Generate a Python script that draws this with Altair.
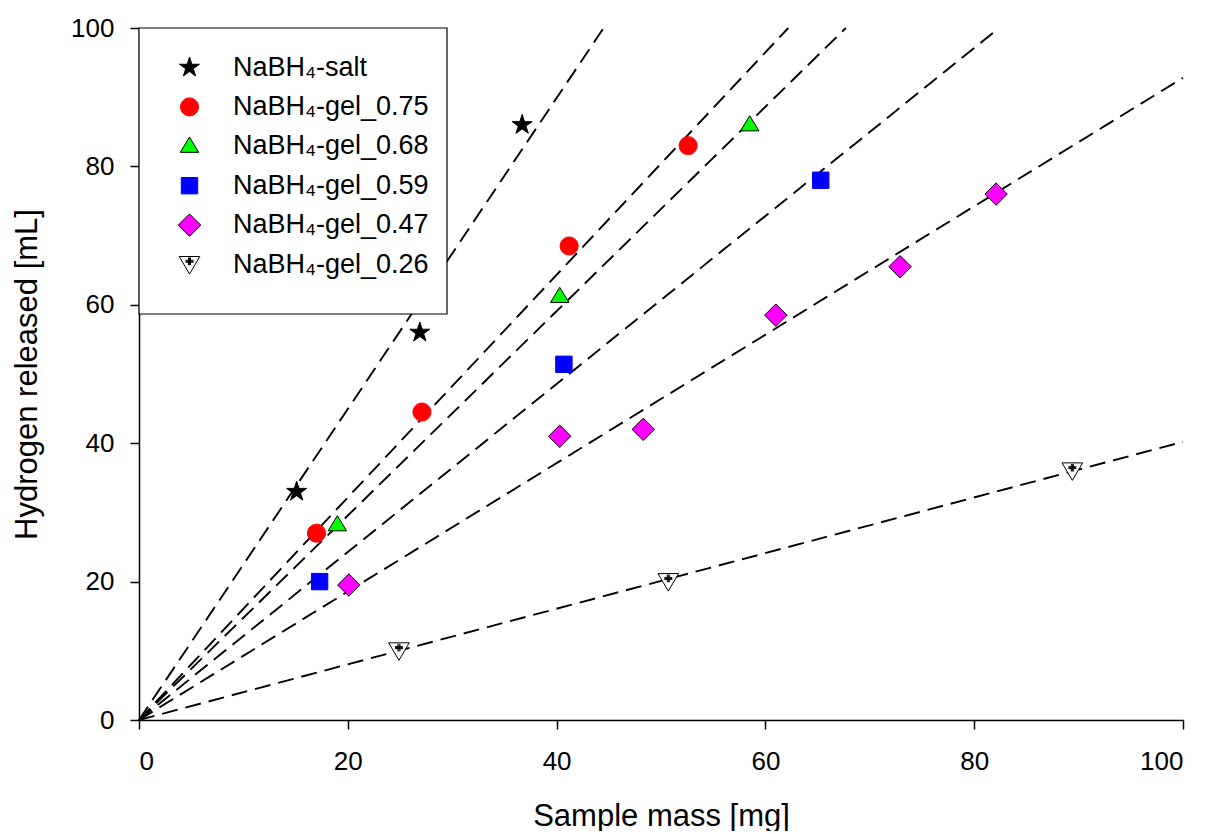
import altair as alt
import pandas as pd

series = ["NaBH₄-salt", "NaBH₄-gel_0.75", "NaBH₄-gel_0.68",
          "NaBH₄-gel_0.59", "NaBH₄-gel_0.47", "NaBH₄-gel_0.26"]

salt_x = [15.1, 26.9, 36.7]
salt_y = [33.0, 56.0, 86.0]
g75_x = [17.0, 27.1, 41.2, 52.6]
g75_y = [27.0, 44.5, 68.5, 83.0]
g68_x = [19.0, 40.3, 58.5]
g68_y = [28.2, 61.2, 86.0]
g59_x = [17.3, 40.7, 65.3]
g59_y = [20.0, 51.4, 78.0]
g47_x = [20.1, 40.3, 48.3, 61.0, 72.9, 82.1]
g47_y = [19.5, 41.0, 42.0, 58.5, 65.5, 76.0]
g26_x = [24.9, 50.7, 89.4]
g26_y = [10.0, 20.0, 36.0]

# slopes of the dashed fit lines (through the origin)
slopes = [2.247, 1.608, 1.477, 1.214, 0.928, 0.402]

fills = ["#000000", "#ff0000", "#00ff00", "#0000ff", "#ff00ff", "#ffffff"]
strokes = ["#000000", "#ff0000", "#000000", "#0000ff", "#000000", "#000000"]

STAR = ("M0,-1.05L0.236,-0.324L0.999,-0.324L0.381,0.124L0.617,0.849L0,0.401"
        "L-0.617,0.849L-0.381,0.124L-0.999,-0.324L-0.236,-0.324Z")
CIRCLE = "M0.9,0A0.9,0.9,0,1,1,-0.9,0A0.9,0.9,0,1,1,0.9,0Z"
TRI_UP = "M0,-0.92L0.92,0.6L-0.92,0.6Z"
SQUARE = "M-0.82,-0.82L0.82,-0.82L0.82,0.82L-0.82,0.82Z"
DIAMOND = "M-1.12,0L0,-1.12L1.12,0L0,1.12Z"
TRI_PLUS = ("M-1.03,-0.8L1.03,-0.8L0,0.95Z"
            "M-0.1,-0.7L-0.1,0.06M0,-0.7L0,0.06M0.1,-0.7L0.1,0.06"
            "M-0.4,-0.42L0.4,-0.42M-0.4,-0.32L0.4,-0.32M-0.4,-0.22L0.4,-0.22")
shapes = [STAR, CIRCLE, TRI_UP, SQUARE, DIAMOND, TRI_PLUS]

xs = [salt_x, g75_x, g68_x, g59_x, g47_x, g26_x]
ys = [salt_y, g75_y, g68_y, g59_y, g47_y, g26_y]

rows = []
for s, xv, yv in zip(series, xs, ys):
    for a, b in zip(xv, yv):
        rows.append({"series": s, "x": a, "y": b})
pts = pd.DataFrame(rows)

lrows = []
for s, k in zip(series, slopes):
    xend = min(100.0, 100.0 / k)
    lrows.append({"series": s, "x": 0.0, "y": 0.0, "o": 0})
    lrows.append({"series": s, "x": xend, "y": k * xend, "o": 1})
lines_df = pd.DataFrame(lrows)

xscale = alt.Scale(domain=[0, 100], nice=False, zero=True)
yscale = alt.Scale(domain=[0, 100], nice=False, zero=True)

FONT = "Liberation Sans"

xaxis = alt.Axis(values=[0, 20, 40, 60, 80, 100], title="Sample mass [mg]",
                 grid=False, tickSize=9, labelPadding=19, titlePadding=27)
yaxis = alt.Axis(values=[0, 20, 40, 60, 80, 100], title="Hydrogen released [mL]",
                 grid=False, tickSize=9, labelPadding=16, titlePadding=27)

lines = alt.Chart(lines_df).mark_line(
    color="black", strokeWidth=1.9, strokeDash=[16, 8]
).encode(
    x=alt.X("x:Q", scale=xscale, axis=xaxis),
    y=alt.Y("y:Q", scale=yscale, axis=yaxis),
    detail="series:N",
    order="o:Q",
)

points = alt.Chart(pts).mark_point(filled=True, opacity=1, strokeWidth=1, size=400).encode(
    x=alt.X("x:Q", scale=xscale),
    y=alt.Y("y:Q", scale=yscale),
    fill=alt.Fill("series:N", scale=alt.Scale(domain=series, range=fills),
                  sort=series, legend=alt.Legend(title=None)),
    stroke=alt.Stroke("series:N", scale=alt.Scale(domain=series, range=strokes),
                      sort=series, legend=alt.Legend(title=None)),
    shape=alt.Shape("series:N", scale=alt.Scale(domain=series, range=shapes),
                    sort=series, legend=alt.Legend(title=None)),
)

# legend frame (layout element), drawn over the dashed lines
frame = alt.Chart(pts).mark_rect(
    fill="white", stroke="black", strokeWidth=1.2
).encode(
    x=alt.value(0), x2=alt.value(308), y=alt.value(0), y2=alt.value(286)
).transform_aggregate(n="count()")

chart = alt.layer(lines, points, frame).properties(
    width=1044, height=692,
    padding={"left": 3, "top": 7, "right": 0, "bottom": 0},
).configure_view(stroke=None).configure_axis(
    labelFont=FONT, titleFont=FONT, labelFontSize=26, titleFontSize=31,
    titleFontWeight="normal", labelColor="black", titleColor="black",
    domainColor="black", tickColor="black", domainWidth=1.5, tickWidth=1.5,
).configure_legend(
    orient="none", legendX=37, legendY=26, padding=0,
    labelFont=FONT, labelFontSize=27, labelColor="black",
    symbolStrokeWidth=1, symbolSize=400, rowPadding=11.4,
    symbolOffset=0, labelOffset=30, labelLimit=400,
)

chart.save("out.html", embed_options={"renderer": "svg", "actions": False})
